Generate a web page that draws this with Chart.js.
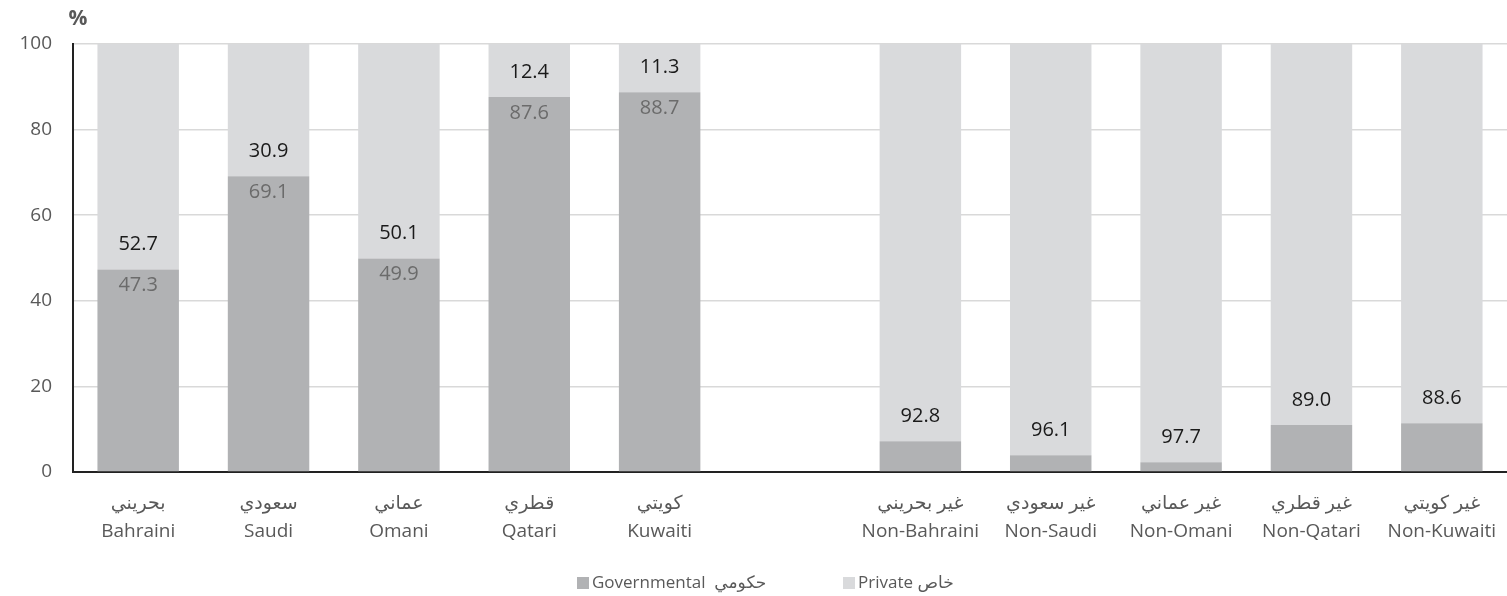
<!DOCTYPE html>
<html>
<head>
<meta charset="utf-8">
<script src="https://cdn.jsdelivr.net/npm/chart.js@4/dist/chart.umd.min.js"></script>
<style>
  body { margin:0; background:#fff; }
  #wrap { position:relative; width:1507px; height:596px; }
</style>
</head>
<body>
<div id="wrap"><canvas id="c"></canvas></div>
<script>
// categories: arabic line + english line, empty slot is the gap between groups
const arLabels = ["بحريني","سعودي","عماني","قطري","كويتي","","غير بحريني","غير سعودي","غير عماني","غير قطري","غير كويتي"];
const enLabels = ["Bahraini","Saudi","Omani","Qatari","Kuwaiti","","Non-Bahraini","Non-Saudi","Non-Omani","Non-Qatari","Non-Kuwaiti"];
const govValues     = [47.3, 69.1, 49.9, 87.6, 88.7, null, 7.2, 3.9, 2.3, 11.0, 11.4];
const privateValues = [52.7, 30.9, 50.1, 12.4, 11.3, null, 92.8, 96.1, 97.7, 89.0, 88.6];
const yTicks = [0, 20, 40, 60, 80, 100];
const seriesNames = ["Governmental  حكومي", "Private خاص"];

const FONT = "'Open Sans', 'DejaVu Sans', sans-serif";
const GOV_C = "#b1b2b4", PRIV_C = "#d9dadc", TXT = "#595959";

// value labels: private above the split, governmental below it (only where big enough)
const valueLabels = {
  id:"valueLabels",
  afterDatasetsDraw(chart) {
    const { ctx } = chart;
    ctx.save();
    ctx.font = "20px " + FONT;
    ctx.textAlign = "center";
    ctx.textBaseline = "middle";
    chart.getDatasetMeta(0).data.forEach((bar, i) => {
      const v = govValues[i];
      if (v == null || v < 20) return;
      ctx.fillStyle = "#6b6b6b";
      ctx.fillText(v.toFixed(1), bar.x, bar.y + 16);
    });
    chart.getDatasetMeta(1).data.forEach((bar, i) => {
      const v = privateValues[i];
      if (v == null) return;
      ctx.fillStyle = "#1a1a1a";
      ctx.fillText(v.toFixed(1), bar.x, bar.base - 25);
    });
    ctx.restore();
  }
};

// "%" unit + legend at the bottom
const extras = {
  id:"extras",
  afterDraw(chart) {
    const { ctx } = chart;
    ctx.save();
    ctx.fillStyle = TXT;
    ctx.textBaseline = "middle";
    ctx.font = "bold 21px " + FONT;
    ctx.textAlign = "center";
    ctx.fillText("%", 78, 19);

    ctx.font = "17px " + FONT;
    ctx.textAlign = "left";
    ctx.direction = "ltr";
    const items = [[GOV_C, seriesNames[0], 577], [PRIV_C, seriesNames[1], 843]];
    items.forEach(([c, t, x]) => {
      ctx.fillStyle = c;
      ctx.fillRect(x, 577, 12, 12);
      ctx.fillStyle = TXT;
      ctx.fillText(t, x + 15, 583);
    });
    ctx.restore();
  }
};

new Chart(document.getElementById("c"), {
  type:"bar",
  data:{
    labels: arLabels.map((a, i) => [a, enLabels[i]]),
    datasets:[
      { label:seriesNames[0], data:govValues,     backgroundColor:GOV_C, borderWidth:0 },
      { label:seriesNames[1], data:privateValues, backgroundColor:PRIV_C, borderWidth:0 },
    ],
  },
  options:{
    responsive:true, maintainAspectRatio:false, animation:false,
    layout:{ padding:{ top:44, right:0, left:0, bottom:0 } },
    datasets:{ bar:{ categoryPercentage:1, barPercentage:0.625 } },
    plugins:{ legend:{display:false}, tooltip:{enabled:false} },
    scales:{
      x:{
        stacked:true,
        grid:{ display:false, drawTicks:false },
        border:{ display:true, color:"#222", width:2 },
        ticks:{ color:TXT, font:{ family:FONT, size:19, lineHeight:1.5 }, padding:17, maxRotation:0, autoSkip:false },
        afterFit: s => { s.height = 124; s.paddingLeft = 0; s.paddingRight = 0; },
      },
      y:{
        stacked:true, min:0, max:100,
        afterBuildTicks: s => { s.ticks = yTicks.map(v => ({ value:v })); },
        grid:{ color:"#d9d9d9", lineWidth:1.5, drawTicks:false },
        border:{ display:true, color:"#222", width:2 },
        ticks:{ color:TXT, font:{ family:FONT, size:19 }, padding:21 },
        afterFit: s => { s.width = 73; },
      },
    },
  },
  plugins:[valueLabels, extras],
});
</script>
</body>
</html>
